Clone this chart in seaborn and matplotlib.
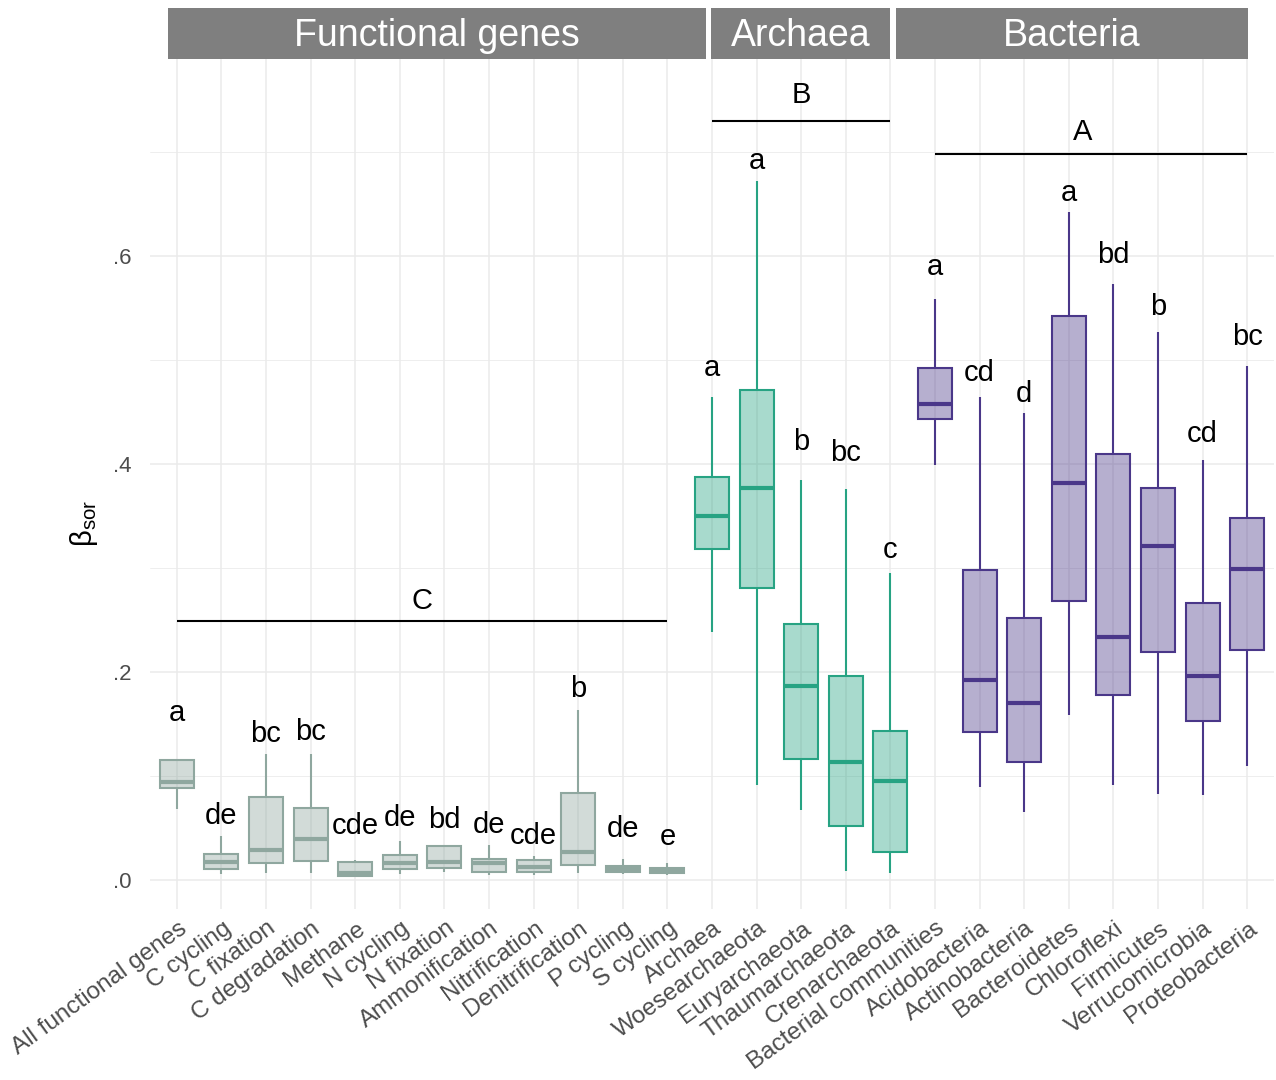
import numpy as np
import pandas as pd
import matplotlib
matplotlib.use("Agg")
import matplotlib.pyplot as plt
import matplotlib.transforms as mtransforms
from matplotlib.patches import Rectangle
from matplotlib.colors import to_rgba
import seaborn as sns

# Categories in plotting order, with their group
categories = [
    "All functional genes", "C cycling", "C fixation", "C degradation", "Methane",
    "N cycling", "N fixation", "Ammonification", "Nitrification", "Denitrification",
    "P cycling", "S cycling",
    "Archaea", "Woesearchaeota", "Euryarchaeota", "Thaumarchaeota", "Crenarchaeota",
    "Bacterial communities", "Acidobacteria", "Actinobacteria", "Bacteroidetes",
    "Chloroflexi", "Firmicutes", "Verrucomicrobia", "Proteobacteria",
]
groups = ["Functional genes"] * 12 + ["Archaea"] * 5 + ["Bacteria"] * 8

# Five-number summaries of beta_sor per category
whisker_low = [0.068, 0.0055, 0.0064, 0.0071, 0.0026, 0.0058, 0.0077, 0.0048, 0.0048, 0.007, 0.0055, 0.0048,
               0.238, 0.091, 0.067, 0.009, 0.007,
               0.399, 0.089, 0.065, 0.159, 0.091, 0.083, 0.082, 0.110]
q1 = [0.088, 0.0103, 0.0167, 0.0183, 0.0038, 0.0106, 0.0118, 0.008, 0.008, 0.0141, 0.0077, 0.0064,
      0.318, 0.281, 0.116, 0.052, 0.027,
      0.443, 0.142, 0.113, 0.268, 0.178, 0.219, 0.153, 0.221]
median = [0.0945, 0.0176, 0.0288, 0.0397, 0.007, 0.016, 0.0176, 0.016, 0.0122, 0.0266, 0.0109, 0.0093,
          0.350, 0.377, 0.187, 0.113, 0.095,
          0.458, 0.192, 0.170, 0.382, 0.234, 0.321, 0.196, 0.299]
q3 = [0.115, 0.0247, 0.080, 0.0695, 0.0176, 0.024, 0.033, 0.0202, 0.0188, 0.0833, 0.0138, 0.0118,
      0.387, 0.471, 0.246, 0.196, 0.143,
      0.492, 0.298, 0.252, 0.542, 0.410, 0.377, 0.266, 0.348]
whisker_high = [0.116, 0.0426, 0.121, 0.121, 0.019, 0.0375, 0.033, 0.034, 0.0234, 0.1635, 0.0199, 0.0163,
                0.464, 0.672, 0.385, 0.376, 0.295,
                0.559, 0.464, 0.449, 0.642, 0.573, 0.527, 0.404, 0.494]

# Compact letter display within each group
letters = ["a", "de", "bc", "bc", "cde", "de", "bd", "de", "cde", "b", "de", "e",
           "a", "a", "b", "bc", "c",
           "a", "cd", "d", "a", "bd", "b", "cd", "bc"]
letter_y = [0.153, 0.0538, 0.133, 0.135, 0.0442, 0.0522, 0.0497, 0.0449, 0.0346, 0.176, 0.0417, 0.0337,
            0.485, 0.684, 0.413, 0.403, 0.310,
            0.582, 0.480, 0.460, 0.653, 0.593, 0.543, 0.421, 0.514]

# Between-group comparison bars
group_names = ["Functional genes", "Archaea", "Bacteria"]
group_letters = ["C", "B", "A"]
bar_start = [0, 12, 17]
bar_end = [11, 16, 24]
bar_y = [0.249, 0.7298, 0.698]
bar_label_x = [5.5, 14.0, 20.3]
bar_label_y = [0.2606, 0.747, 0.7115]

# Strip headers (x extent in category units)
strip_start = [-0.2, 11.98, 16.13]
strip_end = [11.87, 15.99, 24.02]

edge_colors = {"Functional genes": "#8fa79f", "Archaea": "#27a383", "Bacteria": "#4a3789"}

rows = []
for cat, grp, lo, a, m, b, hi in zip(categories, groups, whisker_low, q1, median, q3, whisker_high):
    for v in (lo, a, m, b, hi):
        rows.append({"category": cat, "group": grp, "beta": v})
df = pd.DataFrame(rows)

sns.set_theme(style="whitegrid")
plt.rcParams["font.family"] = ["Liberation Sans", "DejaVu Sans"]
plt.rcParams["mathtext.fontset"] = "custom"
plt.rcParams["mathtext.rm"] = "Liberation Sans"
plt.rcParams["mathtext.it"] = "Liberation Sans:italic"

W, H = 1276, 1080
fig = plt.figure(figsize=(W / 100, H / 100), dpi=100)
ax_left, ax_right, ax_top, ax_bottom = 150, 1274, 59, 909
ax = fig.add_axes([ax_left / W, (H - ax_bottom) / H, (ax_right - ax_left) / W, (ax_bottom - ax_top) / H])

for grp in group_names:
    sub = df[df["group"] == grp]
    ec = edge_colors[grp]
    sns.boxplot(
        data=sub, x="category", y="beta", order=categories, ax=ax,
        whis=(0, 100), width=0.76, showcaps=False, showfliers=False,
        color=ec, linecolor=ec, linewidth=1.5, saturation=1,
        boxprops=dict(facecolor=to_rgba(ec, 0.4), edgecolor=ec, linewidth=1.5),
        medianprops=dict(color=ec, linewidth=3.0),
        whiskerprops=dict(color=ec, linewidth=1.5),
    )

ax.set_xlim(-0.6, 24.6)
ax.set_ylim(-0.0279, 0.7894)
ax.set_yticks([0, 0.2, 0.4, 0.6])
ax.set_yticklabels([".0", ".2", ".4", ".6"])
ax.set_yticks([0.1, 0.3, 0.5, 0.7], minor=True)
ax.grid(which="major", color="#ebebeb", linewidth=1.1)
ax.grid(which="minor", axis="y", color="#ebebeb", linewidth=0.6)
ax.set_axisbelow(True)
for s in ax.spines.values():
    s.set_visible(False)
ax.tick_params(axis="both", which="both", length=0, colors="#4d4d4d")
ax.tick_params(axis="y", labelsize=16, pad=13)
ax.tick_params(axis="x", labelsize=17.5, pad=6)
ax.set_xlabel("")
ax.set_ylabel(r"$\mathrm{β}_{\mathrm{sor}}$", fontsize=21, color="black")
ax.yaxis.set_label_coords(-0.0445, 0.4536)

offset = mtransforms.ScaledTranslation(1 / 100, 0, fig.dpi_scale_trans)
for lab in ax.get_xticklabels():
    lab.set_rotation(36)
    lab.set_ha("right")
    lab.set_va("top")
    lab.set_rotation_mode("anchor")
    lab.set_transform(lab.get_transform() + offset)

# Letters above each box
for i, (t, y) in enumerate(zip(letters, letter_y)):
    ax.text(i, y, t, ha="center", va="baseline", fontsize=21, color="black")

# Between-group bars and letters
for x0, x1, y, lx, ly, t in zip(bar_start, bar_end, bar_y, bar_label_x, bar_label_y, group_letters):
    ax.plot([x0, x1], [y, y], color="black", linewidth=1.5, solid_capstyle="butt")
    ax.text(lx, ly, t, ha="center", va="baseline", fontsize=21, color="black")

# Strip headers above the panel
trans = mtransforms.blended_transform_factory(ax.transData, ax.transAxes)
panel_h = ax_bottom - ax_top
strip_h = 51 / panel_h
for name, x0, x1 in zip(group_names, strip_start, strip_end):
    ax.add_patch(Rectangle((x0, 1.0), x1 - x0, strip_h, transform=trans,
                           facecolor="#7f7f7f", edgecolor="none", clip_on=False))
    ax.text((x0 + x1) / 2, 1.0 + (51 - 28) / panel_h, name, transform=trans, ha="center", va="center",
            fontsize=27, color="white", clip_on=False)

fig.savefig("out.png", dpi=100)
